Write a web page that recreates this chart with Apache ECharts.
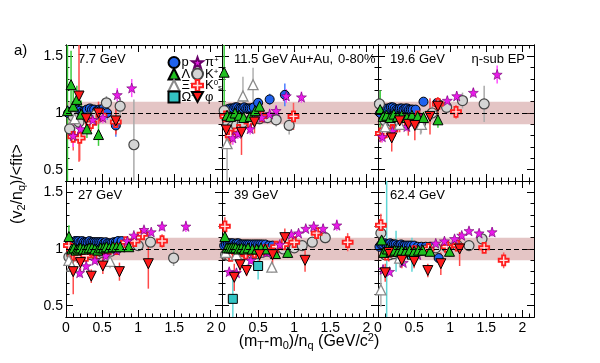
<!DOCTYPE html>
<html><head><meta charset="utf-8">
<script src="https://cdn.jsdelivr.net/npm/echarts@6/dist/echarts.min.js"></script>
<style>html,body{margin:0;padding:0;background:#fff}#c{width:600px;height:363px}</style>
</head><body><div id="c"></div>
<script>
// ---------- data: [x, y, error] ----------
const energies = ['7.7 GeV','11.5 GeV','19.6 GeV','27 GeV','39 GeV','62.4 GeV'];
const xTickLabels = [0, 0.5, 1, 1.5, 2];
const yTickLabels = [0.5, 1, 1.5];

const p_77 = [[0.03,1.0,0.06],[0.06,1.01,0.05],[0.09,1.01,0.04],[0.13,1.03,0.04],[0.16,1.03,0.04],[0.19,1.02,0.03],[0.23,1.01,0.03],[0.26,1.02,0.03],[0.29,1.03,0.03],[0.33,1.04,0.03],[0.36,1.03,0.03],[0.39,1.03,0.03],[0.43,1.02,0.04],[0.46,1.03,0.04],[0.49,1.03,0.04],[0.52,1.04,0.05],[0.57,1.0,0.06],[0.69,0.89,0.1]];
const lam_77 = [[0.02,1.02,0.7],[0.07,1.25,0.3],[0.1,1.06,0.15],[0.15,1.12,0.12],[0.21,0.99,0.12],[0.29,0.86,0.08],[0.45,0.81,0.1]];
const xi_77 = [[0.12,0.95,0.12]];
const om_77 = [];
const pi_77 = [[0.1,0.8,0.1],[0.2,0.86,0.08],[0.37,0.94,0.06],[0.51,0.96,0.05],[0.71,1.16,0.06],[0.91,1.22,0.08]];
const kp_77 = [[0.05,0.86,0.06],[0.1,0.97,0.05],[0.18,0.92,0.05],[0.3,0.96,0.04],[0.42,0.99,0.04],[0.56,1.09,0.06],[0.75,1.06,0.08],[0.94,0.72,0.4]];
const ks_77 = [[0.1,0.79,0.12],[0.19,0.78,0.2],[0.35,0.91,0.07],[0.49,0.98,0.06],[0.69,0.92,0.1]];
const phi_77 = [[0.18,1.15,0.58],[0.28,0.95,0.12],[0.45,1.0,0.1],[0.69,0.93,0.12]];

const p_115 = [[0.03,0.98,0.05],[0.06,1.03,0.03],[0.085,1.03,0.03],[0.11,1.04,0.02],[0.135,1.04,0.02],[0.16,1.04,0.02],[0.185,1.05,0.02],[0.21,1.05,0.02],[0.235,1.04,0.02],[0.26,1.04,0.02],[0.285,1.04,0.02],[0.31,1.05,0.02],[0.335,1.04,0.02],[0.36,1.04,0.03],[0.385,1.04,0.03],[0.41,1.04,0.03],[0.44,1.05,0.03],[0.5,1.09,0.04],[0.66,1.12,0.05],[0.87,1.16,0.1]];
const lam_115 = [[0.03,1.36,0.5],[0.07,0.98,0.1],[0.12,0.97,0.05],[0.18,1.0,0.05],[0.24,0.98,0.04],[0.3,0.96,0.05],[0.39,0.97,0.05],[0.46,1.02,0.05],[0.52,1.06,0.06]];
const xi_115 = [[0.07,0.73,0.35],[0.29,1.15,0.17],[0.43,1.25,0.15]];
const om_115 = [];
const pi_115 = [[0.15,0.78,0.06],[0.22,0.82,0.05],[0.39,0.86,0.05],[0.55,0.96,0.05],[0.66,0.99,0.05],[0.75,1.02,0.05],[0.89,1.15,0.06],[1.1,1.14,0.05]];
const kp_115 = [[0.03,1.02,0.08],[0.08,0.9,0.06],[0.14,0.88,0.05],[0.2,0.89,0.05],[0.28,0.91,0.05],[0.4,0.94,0.05],[0.52,0.95,0.05],[0.63,0.96,0.05],[0.75,0.94,0.06],[0.93,0.89,0.08]];
const ks_115 = [[0.05,0.97,0.08],[0.12,0.8,0.08],[0.23,0.85,0.06],[0.38,0.92,0.05],[0.55,0.97,0.05],[0.99,0.97,0.12]];
const phi_115 = [[0.06,0.85,0.1],[0.27,0.83,0.2],[0.45,0.92,0.1]];

const p_196 = [[0.03,1.0,0.04],[0.055,1.04,0.02],[0.08,1.04,0.02],[0.105,1.03,0.02],[0.13,1.04,0.02],[0.155,1.04,0.02],[0.18,1.05,0.02],[0.205,1.05,0.02],[0.23,1.04,0.02],[0.255,1.03,0.02],[0.28,1.03,0.02],[0.305,1.04,0.02],[0.33,1.04,0.02],[0.355,1.03,0.02],[0.38,1.04,0.02],[0.405,1.04,0.02],[0.43,1.03,0.02],[0.455,1.03,0.02],[0.48,1.03,0.02],[0.52,1.03,0.03],[0.63,1.1,0.03],[0.82,1.09,0.04]];
const lam_196 = [[0.03,1.03,0.17],[0.07,0.97,0.05],[0.12,0.98,0.04],[0.17,0.96,0.04],[0.22,0.99,0.04],[0.27,0.97,0.04],[0.33,0.98,0.04],[0.4,0.96,0.04],[0.47,0.98,0.04],[0.55,0.97,0.05],[0.63,0.96,0.05],[0.83,0.94,0.07]];
const xi_196 = [[0.1,0.88,0.06],[0.3,0.9,0.05],[0.6,0.9,0.08]];
const om_196 = [];
const pi_196 = [[0.06,0.79,0.05],[0.2,0.84,0.04],[0.4,0.88,0.04],[0.6,0.95,0.04],[0.96,1.11,0.04],[1.09,1.15,0.04],[1.32,1.18,0.04],[1.65,1.34,0.08]];
const kp_196 = [[0.02,1.08,0.12],[0.1,0.93,0.05],[0.2,0.92,0.04],[0.3,0.92,0.04],[0.4,0.94,0.04],[0.5,0.95,0.04],[0.59,0.91,0.1],[0.75,1.0,0.06],[0.95,1.05,0.06],[1.17,1.11,0.07],[1.47,1.08,0.16]];
const ks_196 = [[0.04,0.82,0.08],[0.1,0.83,0.06],[0.2,0.85,0.05],[0.35,0.92,0.05],[0.55,0.97,0.05],[0.83,1.08,0.06],[1.08,1.01,0.06]];
const phi_196 = [[0.19,0.78,0.12],[0.3,0.93,0.1],[0.42,0.9,0.1],[0.51,0.89,0.13],[0.72,0.97,0.16],[0.83,1.06,0.08]];

const p_27 = [[0.05,1.04,0.03],[0.075,1.06,0.02],[0.1,1.06,0.02],[0.125,1.07,0.02],[0.15,1.07,0.02],[0.175,1.07,0.02],[0.2,1.06,0.02],[0.225,1.07,0.02],[0.25,1.06,0.02],[0.275,1.06,0.02],[0.3,1.06,0.02],[0.325,1.07,0.02],[0.35,1.06,0.02],[0.375,1.06,0.02],[0.4,1.06,0.02],[0.425,1.06,0.02],[0.45,1.06,0.02],[0.475,1.06,0.02],[0.5,1.06,0.02],[0.525,1.05,0.02],[0.55,1.06,0.02],[0.575,1.05,0.02],[0.6,1.05,0.02],[0.63,1.05,0.02],[0.66,1.06,0.02],[0.69,1.06,0.02],[0.72,1.07,0.02],[0.77,1.07,0.03]];
const lam_27 = [[0.04,1.11,0.1],[0.08,1.0,0.04],[0.11,1.01,0.03],[0.14,0.99,0.03],[0.17,1.0,0.03],[0.2,1.01,0.02],[0.24,1.0,0.02],[0.28,1.0,0.02],[0.32,1.01,0.02],[0.36,1.01,0.02],[0.4,1.0,0.02],[0.44,0.99,0.02],[0.48,1.01,0.02],[0.52,1.01,0.02],[0.56,1.02,0.02],[0.6,1.01,0.03],[0.65,1.02,0.03],[0.7,1.02,0.03],[0.75,1.02,0.03],[0.87,1.02,0.04]];
const xi_27 = [[0.04,0.9,0.06],[0.08,0.85,0.08],[0.61,0.89,0.06]];
const om_27 = [];
const pi_27 = [[0.19,0.79,0.04],[0.28,0.85,0.03],[0.4,0.9,0.03],[0.55,0.94,0.03],[0.7,0.99,0.03],[0.85,1.07,0.03],[0.94,1.12,0.03],[1.08,1.17,0.03],[1.18,1.15,0.03],[1.33,1.2,0.04],[1.66,1.2,0.05]];
const kp_27 = [[0.04,0.93,0.04],[0.08,0.95,0.02],[0.12,0.94,0.02],[0.16,0.95,0.02],[0.2,0.93,0.02],[0.25,0.94,0.02],[0.3,0.95,0.02],[0.35,0.95,0.02],[0.4,0.96,0.02],[0.45,0.96,0.02],[0.5,0.97,0.02],[0.56,0.97,0.02],[0.62,0.98,0.02],[0.7,1.0,0.03],[0.8,1.02,0.03],[1.0,1.03,0.03],[1.17,1.06,0.04],[1.49,0.92,0.07]];
const ks_27 = [[0.04,1.03,0.06],[0.1,0.95,0.03],[0.18,0.93,0.03],[0.28,0.94,0.02],[0.4,0.96,0.02],[0.55,0.97,0.02],[0.7,1.0,0.02],[0.83,1.06,0.03],[0.95,1.07,0.03],[1.06,1.13,0.03],[1.33,1.07,0.06]];
const phi_27 = [[0.1,0.8,0.2],[0.2,0.88,0.1],[0.35,0.76,0.06],[0.51,0.85,0.07],[0.74,0.8,0.08],[1.14,0.87,0.22]];

const p_39 = [[0.03,1.03,0.03],[0.055,1.04,0.02],[0.08,1.05,0.02],[0.105,1.05,0.02],[0.13,1.05,0.02],[0.155,1.05,0.02],[0.18,1.04,0.02],[0.205,1.05,0.02],[0.23,1.05,0.02],[0.255,1.04,0.02],[0.28,1.04,0.02],[0.305,1.04,0.02],[0.33,1.04,0.02],[0.355,1.04,0.02],[0.38,1.04,0.02],[0.41,1.04,0.02],[0.44,1.04,0.02],[0.47,1.04,0.02],[0.5,1.04,0.02],[0.53,1.04,0.02],[0.56,1.04,0.02],[0.6,1.04,0.02],[0.65,1.03,0.03],[0.7,1.03,0.03]];
const lam_39 = [[0.04,1.11,0.08],[0.07,1.01,0.03],[0.1,1.01,0.02],[0.13,1.01,0.02],[0.16,1.01,0.02],[0.19,1.01,0.02],[0.23,1.0,0.02],[0.27,1.01,0.02],[0.31,1.0,0.02],[0.36,1.01,0.02],[0.42,1.0,0.02],[0.48,1.0,0.02],[0.54,1.01,0.02],[0.6,1.0,0.03],[0.74,0.96,0.04],[0.91,0.97,0.05]];
const xi_39 = [[0.05,0.97,0.05],[0.2,0.95,0.03],[0.69,0.84,0.05]];
const om_39 = [[0.15,0.56,0.25],[0.5,0.85,0.12]];
const pi_39 = [[0.1,0.8,0.04],[0.2,0.79,0.04],[0.4,0.9,0.03],[0.62,0.97,0.03],[0.8,1.04,0.03],[0.96,1.13,0.03],[1.06,1.14,0.03],[1.16,1.18,0.03],[1.27,1.2,0.04],[1.4,1.18,0.04],[1.59,1.21,0.05]];
const kp_39 = [[0.05,0.95,0.04],[0.1,0.94,0.02],[0.15,0.95,0.02],[0.2,0.95,0.02],[0.25,0.94,0.02],[0.3,0.95,0.02],[0.36,0.95,0.02],[0.42,0.96,0.02],[0.48,0.96,0.02],[0.55,0.97,0.02],[0.62,0.98,0.02],[0.72,0.99,0.03],[0.85,1.0,0.03],[1.0,1.01,0.03],[1.11,1.03,0.04],[1.25,1.06,0.04],[1.43,1.1,0.05]];
const ks_39 = [[0.04,1.2,0.08],[0.12,0.94,0.04],[0.22,0.95,0.03],[0.33,0.96,0.03],[0.45,0.97,0.03],[0.6,0.99,0.03],[0.75,1.02,0.03],[0.85,1.04,0.03],[1.0,1.06,0.04],[1.31,1.14,0.04],[1.74,1.06,0.08]];
const phi_39 = [[0.17,0.75,0.12],[0.25,0.86,0.06],[0.34,0.81,0.05],[0.52,0.95,0.06],[0.7,0.95,0.08],[0.87,1.1,0.08],[1.15,0.9,0.1]];

const p_62 = [[0.02,1.02,0.04],[0.045,1.04,0.02],[0.07,1.04,0.02],[0.095,1.05,0.02],[0.12,1.04,0.02],[0.145,1.04,0.02],[0.17,1.05,0.02],[0.195,1.04,0.02],[0.22,1.04,0.02],[0.245,1.04,0.02],[0.27,1.03,0.02],[0.295,1.03,0.02],[0.32,1.04,0.02],[0.345,1.03,0.02],[0.37,1.03,0.02],[0.4,1.03,0.02],[0.43,1.03,0.02],[0.46,1.03,0.02],[0.5,1.03,0.02],[0.55,1.02,0.02],[0.6,1.02,0.02],[0.66,1.02,0.03],[0.72,1.02,0.03],[0.84,0.92,0.04]];
const lam_62 = [[0.05,1.08,0.1],[0.08,0.97,0.05],[0.13,1.0,0.04],[0.18,0.98,0.03],[0.23,0.99,0.03],[0.28,0.98,0.03],[0.33,0.99,0.03],[0.38,0.98,0.03],[0.44,0.99,0.03],[0.5,0.98,0.03],[0.56,0.99,0.03],[0.62,0.99,0.03],[0.72,0.98,0.04],[0.99,0.98,0.05]];
const xi_62 = [[0.04,0.64,0.15],[0.3,0.92,0.08]];
const om_62 = [[0.12,0.37,1.3],[0.25,0.98,0.18],[0.47,0.95,0.15]];
const pi_62 = [[0.07,0.82,0.04],[0.16,0.8,0.03],[0.35,0.88,0.03],[0.55,0.95,0.03],[0.8,1.05,0.03],[0.92,1.07,0.03],[1.06,1.09,0.03],[1.16,1.12,0.03],[1.26,1.16,0.03],[1.4,1.14,0.03],[1.58,1.15,0.04]];
const kp_62 = [[0.04,1.14,0.08],[0.1,0.95,0.04],[0.16,0.95,0.03],[0.22,0.96,0.02],[0.3,0.96,0.02],[0.38,0.97,0.02],[0.46,0.97,0.02],[0.55,0.98,0.02],[0.65,0.99,0.02],[0.8,1.01,0.03],[0.95,1.02,0.03],[1.1,1.03,0.03],[1.26,1.03,0.03],[1.44,1.09,0.04]];
const ks_62 = [[0.04,1.21,0.1],[0.12,0.95,0.05],[0.3,0.96,0.04],[0.5,0.98,0.03],[0.7,1.0,0.03],[0.95,1.02,0.03],[1.1,1.03,0.04],[1.47,1.01,0.04],[1.74,0.9,0.07]];
const phi_62 = [[0.1,0.79,0.08],[0.15,0.97,0.08],[0.33,0.9,0.07],[0.5,0.89,0.06],[0.69,0.81,0.06],[0.87,0.87,0.1],[1.13,1.0,0.15]];

// ---------- styling ----------
const FONT = 'Liberation Sans, Arial, Helvetica, sans-serif';
const STAR = 'path://M0,-10 L2.35,-3.24 L9.51,-3.09 L3.8,1.24 L5.88,8.09 L0,4 L-5.88,8.09 L-3.8,1.24 L-9.51,-3.09 L-2.35,-3.24 Z';
const CROSS = 'path://M-3.2,-10 L3.2,-10 L3.2,-3.2 L10,-3.2 L10,3.2 L3.2,3.2 L3.2,10 L-3.2,10 L-3.2,3.2 L-10,3.2 L-10,-3.2 L-3.2,-3.2 Z';
const DOWNTRI = 'path://M-10,-8 L10,-8 L0,10 Z';

const speciesDefs = [
  {name:'p',   sets:[p_77,p_115,p_196,p_27,p_39,p_62],       symbol:'circle',   size:9,  fill:'#1f62ee', border:'#000', bw:1,   err:'#4a7cff'},
  {name:'K+',  sets:[kp_77,kp_115,kp_196,kp_27,kp_39,kp_62], symbol:'circle',   size:10, fill:'#d4d4d4', border:'#444', bw:1.2, err:'#aaaaaa'},
  {name:'K0s', sets:[ks_77,ks_115,ks_196,ks_27,ks_39,ks_62], symbol:CROSS,      size:10, fill:'#ffe0e0', border:'#ff1e1e', bw:1.8, err:'#ff5a5a'},
  {name:'π+',  sets:[pi_77,pi_115,pi_196,pi_27,pi_39,pi_62], symbol:STAR,       size:10, fill:'#ea1aea', border:'#6a006a', bw:0.6, err:'#ff50ff'},
  {name:'Ξ-',  sets:[xi_77,xi_115,xi_196,xi_27,xi_39,xi_62], symbol:'triangle', size:10, fill:'#ffffff', border:'#8a8a8a', bw:1.3, err:'#b0b0b0'},
  {name:'Ω-',  sets:[om_77,om_115,om_196,om_27,om_39,om_62], symbol:'rect',     size:9,  fill:'#33c4c4', border:'#000', bw:1,   err:'#5fd6d6'},
  {name:'Λ',   sets:[lam_77,lam_115,lam_196,lam_27,lam_39,lam_62], symbol:'triangle', size:10, fill:'#1fbf1f', border:'#000', bw:1, err:'#3ccc3c'},
  {name:'φ',   sets:[phi_77,phi_115,phi_196,phi_27,phi_39,phi_62], symbol:DOWNTRI, size:10, fill:'#ff1a1a', border:'#000', bw:1, err:'#ff4a4a'}
];

const YMIN = 0.4, YMAX = 1.6, XMIN = 0, XMAX = 2.16;
const colLeft = [66, 222, 378], colW = 156;
const rowTop = [45, 181], rowH = 136;

const xMinor = []; for (let k = 0; k <= 21; k++) xMinor.push(k / 10);
const yMinor = []; for (let k = 4; k <= 16; k++) yMinor.push(k / 10);

const grids = [], xAxes = [], yAxes = [], series = [], graphics = [];
for (let g = 0; g < 6; g++) {
  const row = Math.floor(g / 3), col = g % 3;
  grids.push({left: colLeft[col], top: rowTop[row], width: colW, height: rowH, containLabel:false, outerBoundsMode:'none'});
  const lineStyle = {color:'#000', width:1};
  [['bottom',7,xTickLabels,true],['bottom',3.5,xMinor,false],['top',7,xTickLabels,false],['top',3.5,xMinor,false]].forEach(([pos,len,vals,lab]) => {
    xAxes.push({gridIndex:g, type:'value', min:XMIN, max:XMAX, position:pos,
      axisLine:{show:true, onZero:false, lineStyle},
      axisTick:{show:true, inside:true, length:len, customValues:vals, lineStyle},
      axisLabel:{show: lab && row === 1, customValues:xTickLabels, color:'#000', fontSize:14, fontFamily:FONT, margin:4},
      splitLine:{show:false}});
  });
  [['left',7,yTickLabels,true],['left',3.5,yMinor,false],['right',7,yTickLabels,false],['right',3.5,yMinor,false]].forEach(([pos,len,vals,lab]) => {
    yAxes.push({gridIndex:g, type:'value', min:YMIN, max:YMAX, position:pos,
      axisLine:{show:true, onZero:false, lineStyle},
      axisTick:{show:true, inside:true, length:len, customValues:vals, lineStyle},
      axisLabel:{show: lab && col === 0, customValues:yTickLabels, color:'#000', fontSize:14, fontFamily:FONT, margin:3},
      splitLine:{show:false}});
  });
  const xi = g * 4, yi = g * 4;
  series.push({type:'line', xAxisIndex:xi, yAxisIndex:yi, data:[[0,1]], showSymbol:false, silent:true, z:1,
    lineStyle:{opacity:0},
    markArea:{silent:true, itemStyle:{color:'rgba(180,95,95,0.36)'}, data:[[{yAxis:0.9},{yAxis:1.1}]]},
    markLine:{silent:true, symbol:['none','none'], label:{show:false}, lineStyle:{color:'#000', type:[5,3], width:1}, data:[{yAxis:1}]}
  });
  const errData = [];
  speciesDefs.forEach((s, si) => s.sets[g].forEach(d => errData.push([d[0], d[1], d[2], si])));
  series.push({type:'custom', xAxisIndex:xi, yAxisIndex:yi, silent:true, z:2, data:errData,
    renderItem: (params, api) => {
      const x = api.value(0), y = api.value(1), e = api.value(2), si = api.value(3);
      const lo = Math.max(y - e, YMIN), hi = Math.min(y + e, YMAX);
      const p1 = api.coord([x, lo]), p2 = api.coord([x, hi]);
      return {type:'line', shape:{x1:p1[0], y1:p1[1], x2:p2[0], y2:p2[1]}, style:{stroke:speciesDefs[si].err, lineWidth:1.5}};
    }
  });
  speciesDefs.forEach(s => {
    series.push({type:'scatter', name:s.name, xAxisIndex:xi, yAxisIndex:yi, z:3, silent:true,
      symbol:s.symbol, symbolSize:s.size,
      itemStyle:{color:s.fill, borderColor:s.border, borderWidth:s.bw, opacity:1},
      data:s.sets[g].map(d => [d[0], d[1]])});
  });
  graphics.push({type:'text', x: colLeft[col] + 12, y: rowTop[row] + 14,
    style:{text: energies[g], font:'13px ' + FONT, fill:'#000', verticalAlign:'middle'}});
}
graphics.push({type:'text', x:290, y:59, style:{text:'Au+Au,', font:'13px ' + FONT, fill:'#000', verticalAlign:'middle'}});
graphics.push({type:'text', x:338, y:59, style:{text:'0-80%', font:'13px ' + FONT, fill:'#000', verticalAlign:'middle'}});
graphics.push({type:'text', x:525, y:59, style:{text:'η-sub EP', font:'13px ' + FONT, fill:'#000', align:'right', verticalAlign:'middle'}});
graphics.push({type:'text', x:14, y:51, style:{text:'a)', font:'15px ' + FONT, fill:'#000', verticalAlign:'middle'}});
const titleRich = {
  sub:{fontSize:11, fontFamily:FONT, padding:[8,0,0,0], fill:'#000'},
  sup:{fontSize:11, fontFamily:FONT, padding:[0,0,8,0], fill:'#000'}
};
graphics.push({type:'text', x:18, y:184, rotation:Math.PI/2,
  style:{text:'(v{sub|2}/n{sub|q})/<fit>', font:'16px ' + FONT, fill:'#000', align:'center', verticalAlign:'middle', lineHeight:19, rich:titleRich}});
graphics.push({type:'text', x:309, y:342,
  style:{text:'(m{sub|T}-m{sub|0})/n{sub|q} (GeV/c{sup|2})', font:'16px ' + FONT, fill:'#000', align:'center', verticalAlign:'middle', lineHeight:19, rich:titleRich}});

const legendRich = {
  t:{fontSize:13, fontFamily:FONT, lineHeight:12, color:'#000'},
  sup:{fontSize:8, fontFamily:FONT, lineHeight:12, padding:[0,0,5,0], color:'#000'},
  sub:{fontSize:8, fontFamily:FONT, lineHeight:12, padding:[5,0,0,0], color:'#000'}
};
const legendText = {'p':'{t|p}','Λ':'{t|Λ}','Ξ-':'{t|Ξ}{sup|-}','Ω-':'{t|Ω}{sup|-}','π+':'{t|π}{sup|+}','K+':'{t|K}{sup|+}','K0s':'{t|K}{sup|0}{sub|s}','φ':'{t|φ}'};
function mkLegend(names, left) {
  return {orient:'vertical', left:left, top:56, padding:0, itemGap:-1.5, itemWidth:11, itemHeight:11,
    selectedMode:false, data:names, formatter:n => legendText[n],
    textStyle:{rich:legendRich, fontSize:13, lineHeight:12, color:'#000', padding:[0,0,0,-3]}};
}

const chart = echarts.init(document.getElementById('c'), null, {renderer:'canvas'});
chart.setOption({
  backgroundColor:'#fff', animation:false,
  grid:grids, xAxis:xAxes, yAxis:yAxes, series:series,
  legend:[mkLegend(['p','Λ','Ξ-','Ω-'], 167.5), mkLegend(['π+','K+','K0s','φ'], 191)],
  graphic:graphics
});
</script></body></html>
